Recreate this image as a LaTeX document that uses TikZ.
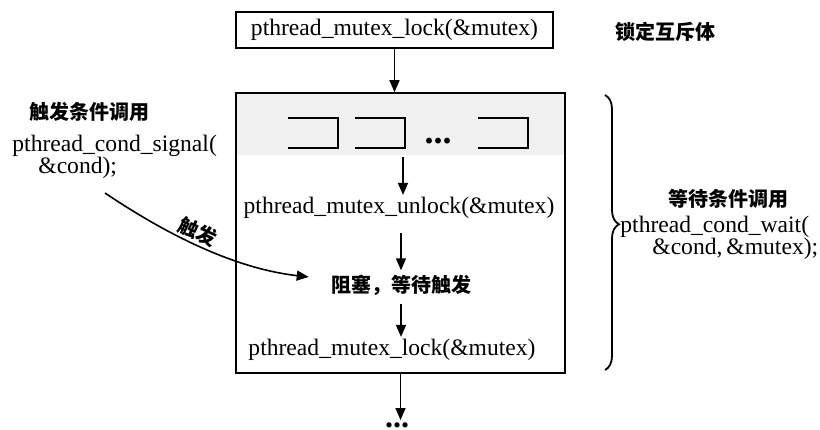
\documentclass[tikz,border=0pt]{standalone}
\usepackage{fontspec}
\setmainfont{Liberation Serif}
\newfontfamily\cjk{Noto Sans CJK SC}
\usetikzlibrary{arrows.meta, positioning, decorations.pathreplacing, calc}

\begin{document}
\begin{tikzpicture}[x=0.5pt, y=-0.5pt,
    code/.style={font=\fontsize{11.8}{11}\selectfont, inner sep=1pt},
    zh/.style={font=\cjk\bfseries\fontsize{10}{12}\selectfont, inner sep=1pt},
    dots/.style={font=\bfseries\fontsize{#1}{#1}\selectfont, inner sep=1pt},
    flow/.style={-{Triangle[length=6pt,width=5pt]}, line width=0.8pt},
    slot/.style={line width=1.1pt}]
  \useasboundingbox (0,0) rectangle (820,429);
  % Lock before waiting
  \node[code, draw, line width=0.8pt, minimum width=158.5pt, minimum height=18pt] (lock1) at (394.5,30) {pthread\_mutex\_lock(\&mutex)};
  \node[zh] (locktext) at (665,32) {锁定互斥体};
  % Waiting block with the queue of waiting threads
  \fill[black!6] (237,94) rectangle (564,155);
  \node[draw, line width=0.8pt, minimum width=164.5pt, minimum height=140pt] (waitbox) at (400.5,233) {};
  \foreach \x in {288,355,478}
    \draw[slot] (\x,118) -| (\x+50,148) -- (\x,148);
  \node[dots=18] (slotdots) at (438,141) {...};
  \coordinate (slotsout) at (403,157);
  \node[code] (unlock) at (399,208) {pthread\_mutex\_unlock(\&mutex)};
  \node[zh, inner sep=2pt] (block) at (401,285) {阻塞，等待触发};
  \node[code] (lock2) at (392,350) {pthread\_mutex\_lock(\&mutex)};
  \node[dots=16] (more) at (397,425) {...};
  % Arrows
  \draw[flow] (lock1.south) -- (lock1.south |- waitbox.north);
  \draw[flow] (slotsout) -- (slotsout |- unlock.north);
  \draw[flow, shorten <=6pt] (unlock.south -| block.north) -- (block.north);
  \draw[flow, shorten <=2pt] (block.south) -- (block.south |- lock2.north);
  \draw[flow] (waitbox.south) -- (waitbox.south |- more.north);
  % Signal side
  \node[zh] (sigtitle) at (90,112) {触发条件调用};
  \node[code, align=left, anchor=west] (signal) at (10,157) {pthread\_cond\_signal(\\\hspace*{13pt}\&cond);};
  \coordinate (sigout) at (105,193);
  \draw[flow, shorten >=9pt] (sigout) .. controls (160,230) and (230,268) .. ([yshift=3pt]block.west);
  \node[zh, rotate=-25] (trigtext) at (198,232) {触发};
  % Wait side
  \draw[line width=0.9pt, decorate, decoration={brace, amplitude=7pt, aspect=0.47}] (605,95) -- (605,370);
  \node[zh] (waittitle) at (728,199) {等待条件调用};
  \node[code, align=left, anchor=west] (waitcall) at (618,238) {pthread\_cond\_wait(\\\hspace*{16pt}\&cond,\,\&mutex);};
\end{tikzpicture}
\end{document}
